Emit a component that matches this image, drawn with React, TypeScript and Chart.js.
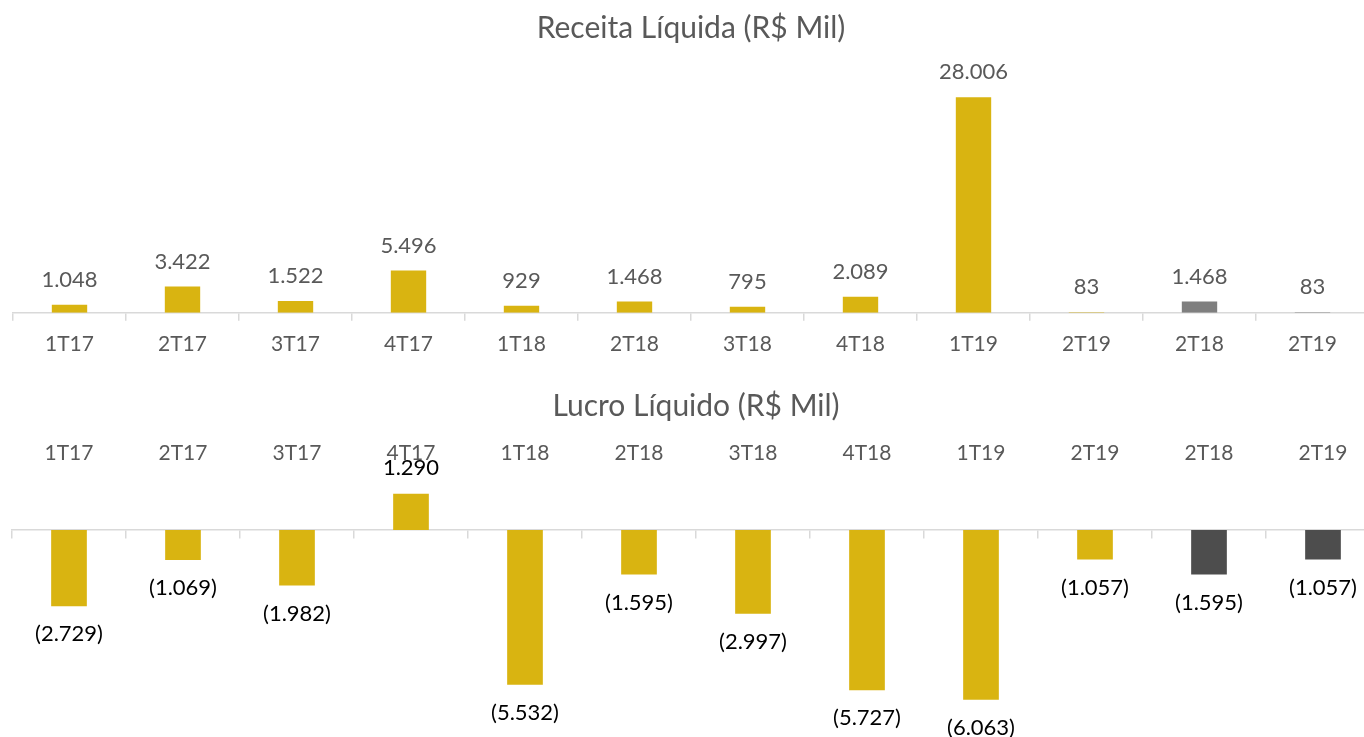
import React, { useEffect, useRef } from "react";
import { Chart, registerables } from "chart.js";

Chart.register(...registerables);

const categories = ["1T17", "2T17", "3T17", "4T17", "1T18", "2T18", "3T18", "4T18", "1T19", "2T19", "2T18", "2T19"];
const receita = [1048, 3422, 1522, 5496, 929, 1468, 795, 2089, 28006, 83, 1468, 83];
const lucro = [-2729, -1069, -1982, 1290, -5532, -1595, -2997, -5727, -6063, -1057, -1595, -1057];

const GOLD = "#D9B411";
const GRAY_TOP = "#7F7F7F";
const GRAY_BOTTOM = "#4D4D4D";
const HIGHLIGHT_FROM = 10;
const FONT = "Lato";

const fmt = (v: number) => {
  const s = Math.abs(v).toString().replace(/\B(?=(\d{3})+(?!\d))/g, ".");
  return v < 0 ? `(${s})` : s;
};

const labelPlugin = (color: string, up: number, down: number) => ({
  id: "valueLabels",
  afterDatasetsDraw(chart: any) {
    const ctx = chart.ctx;
    const meta = chart.getDatasetMeta(0);
    const data = chart.data.datasets[0].data as number[];
    ctx.save();
    ctx.font = `22px ${FONT}`;
    ctx.fillStyle = color;
    ctx.textAlign = "center";
    ctx.textBaseline = "middle";
    meta.data.forEach((el: any, i: number) => {
      const v = data[i];
      const y = v >= 0 ? el.y - up : el.y + down;
      ctx.fillText(fmt(v), el.x, y);
    });
    ctx.restore();
  },
});

export default function App() {
  const topRef = useRef<HTMLCanvasElement>(null);
  const botRef = useRef<HTMLCanvasElement>(null);

  useEffect(() => {
    const topColors = receita.map((_, i) => (i >= HIGHLIGHT_FROM ? GRAY_TOP : GOLD));
    const botColors = lucro.map((_, i) => (i >= HIGHLIGHT_FROM ? GRAY_BOTTOM : GOLD));

    const top = new Chart(topRef.current!, {
      type: "bar",
      data: {
        labels: categories,
        datasets: [
          {
            data: receita,
            backgroundColor: topColors,
            barPercentage: 0.313,
            categoryPercentage: 1,
          },
        ],
      },
      options: {
        responsive: false,
        animation: false,
        layout: { padding: { top: 0, left: 13, right: 3, bottom: 2 } },
        plugins: {
          legend: { display: false },
          tooltip: { enabled: false },
          title: {
            display: true,
            text: "Receita Líquida (R$ Mil)",
            color: "#595959",
            font: { family: FONT, size: 30, weight: "normal" },
            padding: { top: 10, bottom: 36 },
          },
        },
        scales: {
          x: {
            grid: {
              display: true,
              drawOnChartArea: false,
              offset: true,
              tickLength: 8,
              color: "#D9D9D9",
              lineWidth: 1.5,
            },
            border: { color: "#D9D9D9", width: 1.5 },
            ticks: {
              color: "#595959",
              font: { family: FONT, size: 21 },
              padding: 11,
              maxRotation: 0,
              autoSkip: false,
            },
          },
          y: { display: false, min: 0, max: 30000 },
        },
      },
      plugins: [labelPlugin("#595959", 25, 25)],
    } as any);

    const bot = new Chart(botRef.current!, {
      type: "bar",
      data: {
        labels: categories,
        datasets: [
          {
            data: lucro,
            backgroundColor: botColors,
            barPercentage: 0.313,
            categoryPercentage: 1,
          },
        ],
      },
      options: {
        responsive: false,
        animation: false,
        layout: { padding: { top: 0, left: 12, right: 4, bottom: 13 } },
        plugins: {
          legend: { display: false },
          tooltip: { enabled: false },
          title: {
            display: true,
            text: "Lucro Líquido (R$ Mil)",
            color: "#595959",
            font: { family: FONT, size: 30, weight: "normal" },
            padding: { top: 18, bottom: 5 },
          },
        },
        scales: {
          x: {
            position: "top",
            grid: { display: false, drawTicks: false },
            border: { display: false },
            ticks: {
              color: "#595959",
              font: { family: FONT, size: 21 },
              padding: 11.6,
              maxRotation: 0,
              autoSkip: false,
            },
          },
          x2: {
            type: "category",
            labels: categories,
            position: { y: 0 },
            grid: {
              display: true,
              drawOnChartArea: false,
              offset: true,
              tickLength: 8,
              color: "#D9D9D9",
              lineWidth: 1.5,
            },
            border: { color: "#D9D9D9", width: 1.5 },
            ticks: { display: false },
          },
          y: { display: false, min: -6930, max: 1877 },
        },
      },
      plugins: [labelPlugin("#000000", 26, 28)],
    } as any);

    return () => {
      top.destroy();
      bot.destroy();
    };
  }, []);

  return (
    <div
      style={{
        position: "fixed",
        left: 0,
        top: 0,
        width: 1364,
        height: 737,
        overflow: "hidden",
        background: "#fff",
      }}
    >
      <canvas ref={topRef} width={1372} height={370} style={{ position: "absolute", left: 0, top: 0, display: "block" }} />
      <canvas ref={botRef} width={1384} height={367} style={{ position: "absolute", left: 0, top: 370, display: "block" }} />
    </div>
  );
}
